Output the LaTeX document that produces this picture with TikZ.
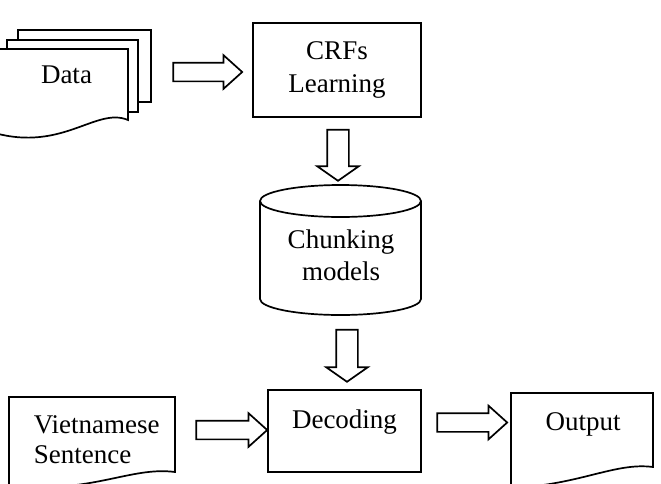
\documentclass[tikz,border=0pt]{standalone}
\usepackage{fontspec}
\setmainfont{Liberation Serif}
\usetikzlibrary{shapes.arrows}
\begin{document}
\begin{tikzpicture}[x=1pt,y=-1pt,line width=1.7pt,line join=miter,
  blk/.style={single arrow,draw,fill=white,inner xsep=0pt,outer sep=0pt,
    single arrow tip angle=#1},
  hblk/.style={blk=84,inner ysep=8.5pt,single arrow head extend=7.5pt},
  vblk/.style={blk=110,inner ysep=10pt,single arrow head extend=10pt,rotate=-90},
  lbl/.style={anchor=base,inner sep=0pt,font=\fontsize{27}{32}\selectfont},
  boxnode/.style={draw,fill=white,inner sep=0pt,outer sep=0pt}]
\useasboundingbox (0,0) rectangle (661,483);
\clip (0,0) rectangle (661,483);

% Data stack
\draw[fill=white] (18,102) -- (18,30) -- (151,30) -- (151,102) -- cycle;
\draw[fill=white] (7,112) -- (7,40) -- (138,40) -- (138,112) -- cycle;
\draw[fill=white] (-15,130) -- (-15,49) -- (128,49) -- (128,120)
  .. controls (95,106) and (60,156) .. (-15,130);
\node[lbl] (datatxt) at (66.5,83) {Data};

% CRFs Learning box
\node[boxnode,minimum width=168pt,minimum height=94pt] (crf) at (337,70) {};
\node[lbl] (crf1) at (337,59) {CRFs};
\node[lbl] (crf2) at (337,92) {Learning};

% Cylinder
\draw[fill=white] (260,201) -- (260,299)
  .. controls (260,307.84) and (296.04,315) .. (340.5,315)
  .. controls (384.96,315) and (421,307.84) .. (421,299) -- (421,201);
\draw[fill=white] (340.5,201) ellipse [x radius=80.5pt,y radius=16pt];
\node[lbl] (cyl1) at (341,248) {Chunking};
\node[lbl] (cyl2) at (341,280) {models};

% Decoding box
\node[boxnode,minimum width=153pt,minimum height=82pt] (dec) at (344.5,431) {};
\node[lbl] (dectxt) at (344.5,428) {Decoding};

% Vietnamese Sentence document
\draw[fill=white] (9,490) -- (9,397) -- (175,397) -- (175,472)
  .. controls (130,466) and (90,495) .. (9,485);
\node[lbl,anchor=base west] (vs1) at (33,433) {Vietnamese};
\node[lbl,anchor=base west] (vs2) at (33,463) {Sentence};

% Output document
\draw[fill=white] (511,490) -- (511,393) -- (653,393) -- (653,467)
  .. controls (615,462) and (580,485) .. (511,488);
\node[lbl] (out) at (583,430) {Output};

% Block arrows
\node[hblk,minimum height=69pt] (a1) at (202.5,72) {};
\node[vblk,minimum height=51pt] (a2) at (338,151.5) {};
\node[vblk,minimum height=52pt] (a3) at (347,352) {};
\node[hblk,minimum height=71pt] (a4) at (226.5,430) {};
\node[hblk,minimum height=70pt] (a5) at (467,422.5) {};
\end{tikzpicture}
\end{document}
